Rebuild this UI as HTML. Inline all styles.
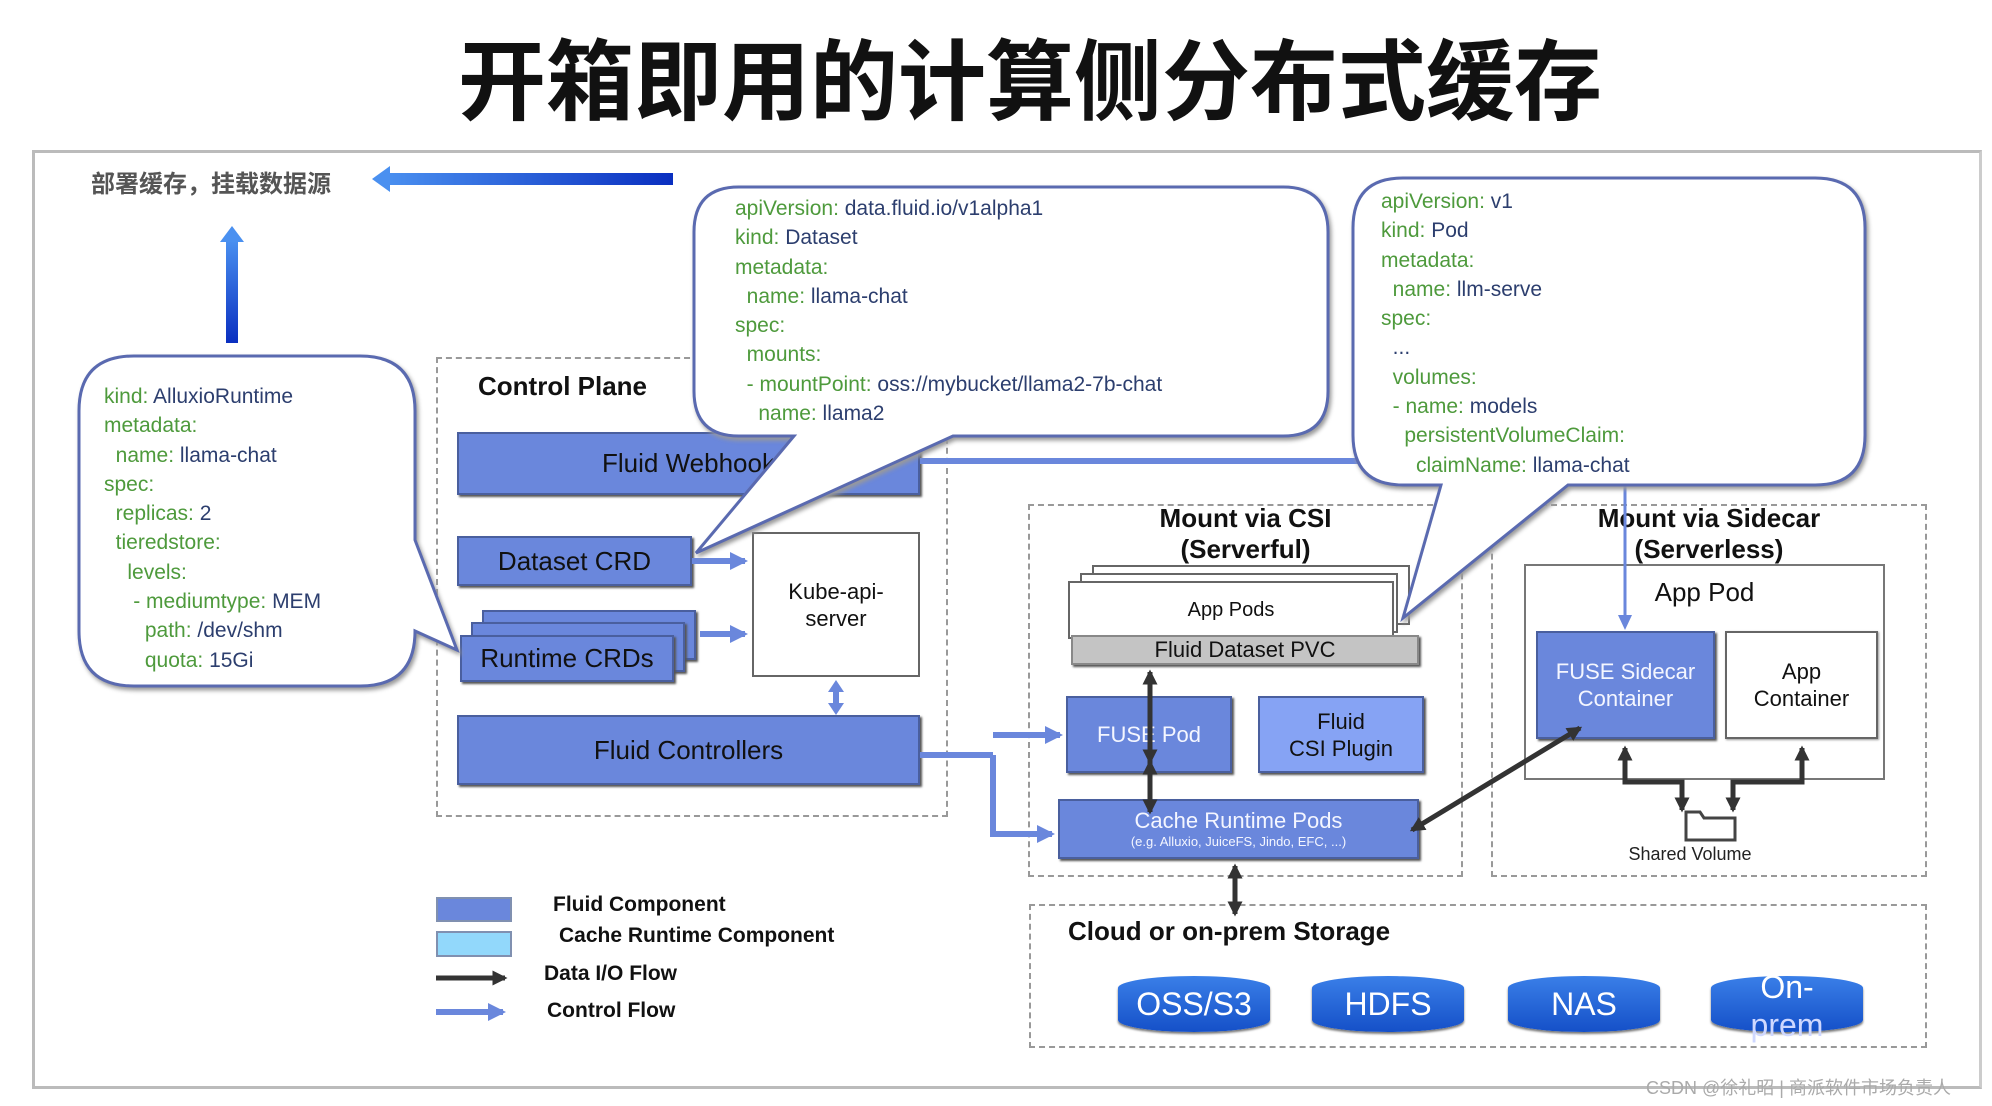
<!DOCTYPE html>
<html><head><meta charset="utf-8"><style>
*{margin:0;padding:0;box-sizing:border-box}
body{width:1992px;height:1106px;background:#fff;position:relative;overflow:hidden;font-family:"Liberation Sans","Noto Sans CJK SC",sans-serif}
.a{position:absolute}
.box{position:absolute;background:#6a87dc;border:2px solid #4a5f9e;box-shadow:2px 2px 2px #555;display:flex;align-items:center;justify-content:center;text-align:center;color:#111;font-size:26px}
.w{color:#f4f6ff}
.dash{position:absolute;border:2px dashed #999}
.t{position:absolute;font-weight:bold;color:#111}
.code{position:absolute;font-size:21px;line-height:29.3px;color:#2c3e6e;white-space:pre}
.code b{font-weight:normal;color:#4e9a3c}
.cyl{position:absolute;width:152px;height:56px;background:linear-gradient(#3a7fe8,#1550c8);border-radius:76px/12px;color:#fff;font-size:32px;display:flex;align-items:center;justify-content:center;box-shadow:0 2px 2px #777}
</style></head><body>
<div class="a" style="left:300px;top:28px;width:1460px;text-align:center;font-size:88px;line-height:110px;font-weight:bold;color:#111;white-space:nowrap">开箱即用的计算侧分布式缓存</div>
<div class="a" style="left:32px;top:150px;width:1950px;height:939px;border:3px solid #bbb;border-right-color:#ccc"></div>
<div class="t" style="left:91px;top:164px;font-size:24px;color:#555">部署缓存，挂载数据源</div>

<div class="dash" style="left:436px;top:357px;width:512px;height:460px"></div>
<div class="t" style="left:478px;top:371px;font-size:26px">Control Plane</div>
<div class="dash" style="left:1028px;top:504px;width:435px;height:373px"></div>
<div class="t" style="left:1028px;top:503px;width:435px;text-align:center;font-size:26px;line-height:31px">Mount via CSI<br>(Serverful)</div>
<div class="dash" style="left:1491px;top:504px;width:436px;height:373px"></div>
<div class="t" style="left:1491px;top:503px;width:436px;text-align:center;font-size:26px;line-height:31px">Mount via Sidecar<br>(Serverless)</div>
<div class="dash" style="left:1029px;top:904px;width:898px;height:144px"></div>
<div class="t" style="left:1068px;top:916px;font-size:26px">Cloud or on-prem Storage</div>

<div class="box" style="left:457px;top:432px;width:463px;height:63px">Fluid Webhook</div>
<div class="box" style="left:457px;top:536px;width:235px;height:50px">Dataset CRD</div>
<div class="box" style="left:482px;top:610px;width:214px;height:50px"></div>
<div class="box" style="left:471px;top:622px;width:214px;height:50px"></div>
<div class="box" style="left:460px;top:635px;width:214px;height:47px">Runtime CRDs</div>
<div class="box" style="left:752px;top:532px;width:168px;height:145px;background:#fff;border:2px solid #666;box-shadow:none;font-size:22px;line-height:27px">Kube-api-<br>server</div>
<div class="box" style="left:457px;top:715px;width:463px;height:70px">Fluid Controllers</div>

<div class="a" style="left:1092px;top:565px;width:318px;height:60px;border:2px solid #666;background:#fff"></div>
<div class="a" style="left:1080px;top:573px;width:318px;height:60px;border:2px solid #666;background:#fff"></div>
<div class="box" style="left:1068px;top:581px;width:326px;height:58px;background:#fff;border:2px solid #666;box-shadow:none;font-size:20px">App Pods</div>
<div class="box" style="left:1071px;top:635px;width:348px;height:30px;background:#c4c4c4;border:2px solid #888;font-size:22px">Fluid Dataset PVC</div>
<div class="box w" style="left:1066px;top:696px;width:166px;height:77px;font-size:22px">FUSE Pod</div>
<div class="box" style="left:1258px;top:696px;width:166px;height:77px;background:#86a3f4;font-size:22px;line-height:27px">Fluid<br>CSI Plugin</div>
<div class="box w" style="left:1058px;top:799px;width:361px;height:60px;flex-direction:column;font-size:22px;line-height:25px">Cache Runtime Pods<span style="font-size:13px;line-height:18px">(e.g. Alluxio, JuiceFS, Jindo, EFC, ...)</span></div>

<div class="a" style="left:1524px;top:564px;width:361px;height:216px;border:2px solid #777;background:#fff"></div>
<div class="a" style="left:1524px;top:577px;width:361px;text-align:center;font-size:26px;color:#111">App Pod</div>
<div class="box w" style="left:1536px;top:631px;width:179px;height:108px;font-size:22px;line-height:27px">FUSE Sidecar<br>Container</div>
<div class="box" style="left:1725px;top:631px;width:153px;height:108px;background:#fff;border:2px solid #666;box-shadow:1px 1px 2px #999;font-size:22px;line-height:27px">App<br>Container</div>
<div class="a" style="left:1620px;top:844px;width:140px;text-align:center;font-size:18px;color:#222">Shared Volume</div>

<div class="cyl" style="left:1118px;top:976px">OSS/S3</div>
<div class="cyl" style="left:1312px;top:976px">HDFS</div>
<div class="cyl" style="left:1508px;top:976px">NAS</div>
<div class="cyl" style="left:1711px;top:976px;line-height:38px;flex-direction:column;justify-content:flex-start;overflow:visible"><span style="margin-top:-8px">On-</span><span style="color:#cfd8ff">prem</span></div>

<div class="a" style="left:436px;top:897px;width:76px;height:25px;background:#6a87dc;border:2px solid #8090b0"></div>
<div class="a" style="left:436px;top:931px;width:76px;height:26px;background:#92d8fb;border:2px solid #8090b0"></div>
<div class="t" style="left:553px;top:893px;font-size:21px">Fluid Component</div>
<div class="t" style="left:559px;top:924px;font-size:21px">Cache Runtime Component</div>
<div class="t" style="left:544px;top:962px;font-size:21px">Data I/O Flow</div>
<div class="t" style="left:547px;top:999px;font-size:21px">Control Flow</div>
<div class="a" style="left:1646px;top:1074px;font-size:18px;color:#aaa">CSDN @徐礼昭 | 商派软件市场负责人</div>

<svg class="a" style="left:0;top:0" width="1992" height="1106">
<defs>
<linearGradient id="g1" x1="0" x2="1"><stop offset="0" stop-color="#4a90f0"/><stop offset="1" stop-color="#0a2fc0"/></linearGradient>
<linearGradient id="g2" x1="0" y1="0" x2="0" y2="1"><stop offset="0" stop-color="#4a90f0"/><stop offset="1" stop-color="#0a2fc0"/></linearGradient>
<marker id="bk" markerWidth="3" markerHeight="3" refX="2.5" refY="1.5" orient="auto-start-reverse"><path d="M0,0 L3,1.5 L0,3 Z" fill="#333"/></marker>
<marker id="bl" markerWidth="3" markerHeight="3" refX="2.5" refY="1.5" orient="auto-start-reverse"><path d="M0,0 L3,1.5 L0,3 Z" fill="#6a87dc"/></marker>
</defs>
<rect x="385" y="173" width="288" height="12" fill="url(#g1)"/>
<path d="M372,179 L390,166 L390,192 Z" fill="#4a90f0"/>
<rect x="226" y="240" width="12" height="103" fill="url(#g2)"/>
<path d="M232,226 L220,242 L244,242 Z" fill="#4a90f0"/>
<g stroke="#6a87dc" stroke-width="6" fill="none">
<line x1="692" y1="561" x2="745" y2="561" marker-end="url(#bl)"/>
<line x1="700" y1="634" x2="745" y2="634" marker-end="url(#bl)"/>
<line x1="920" y1="755" x2="993" y2="755"/>
<polyline points="993,755 993,834 1052,834" marker-end="url(#bl)"/>
<polyline points="993,735 1060,735" marker-end="url(#bl)"/>
<line x1="920" y1="461" x2="1360" y2="461"/>
<line x1="436" y1="1012" x2="503" y2="1012" marker-end="url(#bl)"/>
</g>
<line x1="836" y1="690" x2="836" y2="705" stroke="#6a87dc" stroke-width="6"/>
<path d="M828,692 L844,692 L836,680 Z M828,703 L844,703 L836,715 Z" fill="#6a87dc"/>
<line x1="1625" y1="483" x2="1625" y2="620" stroke="#6a87dc" stroke-width="3"/>
<path d="M1618,615 L1632,615 L1625,630 Z" fill="#6a87dc"/>
<g stroke="#333" stroke-width="5" fill="none">
<line x1="1150" y1="672" x2="1150" y2="762" marker-end="url(#bk)" marker-start="url(#bk)"/>
<line x1="1150" y1="762" x2="1150" y2="812" marker-end="url(#bk)" marker-start="url(#bk)"/>
<line x1="1235" y1="866" x2="1235" y2="914" marker-end="url(#bk)" marker-start="url(#bk)"/>
<line x1="1412" y1="830" x2="1580" y2="728" marker-end="url(#bk)" marker-start="url(#bk)"/>
<line x1="436" y1="978" x2="505" y2="978" marker-end="url(#bk)"/>
<polyline points="1625,748 1625,782 1682,782 1682,810" marker-start="url(#bk)" marker-end="url(#bk)"/>
<polyline points="1802,748 1802,782 1733,782 1733,810" marker-start="url(#bk)" marker-end="url(#bk)"/>
</g>
<path d="M1686,812 L1700,812 L1704,818 L1735,818 L1735,840 L1686,840 Z" fill="#fff" stroke="#444" stroke-width="3"/>
<g fill="#fff" stroke="#5a6ab0" stroke-width="3" style="filter:drop-shadow(2px 3px 2px #999)">
<path d="M134,356 H360 Q415,356 415,411 V540 L457,650 L415,631 Q415,686 360,686 H134 Q79,686 79,631 V411 Q79,356 134,356 Z"/>
<path d="M739,187 H1283 Q1328,187 1328,232 V391 Q1328,436 1283,436 H953 L696,553 L794,436 H739 Q694,436 694,391 V232 Q694,187 739,187 Z"/>
<path d="M1403,178 H1815 Q1865,178 1865,228 V435 Q1865,485 1815,485 H1568 L1403,618 L1441,485 H1403 Q1353,485 1353,435 V228 Q1353,178 1403,178 Z"/>
</g>
</svg>
<div class="code" style="left:104px;top:382px"><b>kind:</b> AlluxioRuntime
<b>metadata:</b>
  <b>name:</b> llama-chat
<b>spec:</b>
  <b>replicas:</b> 2
  <b>tieredstore:</b>
    <b>levels:</b>
     <b>- mediumtype:</b> MEM
       <b>path:</b> /dev/shm
       <b>quota:</b> 15Gi</div>
<div class="code" style="left:735px;top:194px"><b>apiVersion:</b> data.fluid.io/v1alpha1
<b>kind:</b> Dataset
<b>metadata:</b>
  <b>name:</b> llama-chat
<b>spec:</b>
  <b>mounts:</b>
  <b>- mountPoint:</b> oss://mybucket/llama2-7b-chat
    <b>name:</b> llama2</div>
<div class="code" style="left:1381px;top:187px"><b>apiVersion:</b> v1
<b>kind:</b> Pod
<b>metadata:</b>
  <b>name:</b> llm-serve
<b>spec:</b>
  ...
  <b>volumes:</b>
  <b>- name:</b> models
    <b>persistentVolumeClaim:</b>
      <b>claimName:</b> llama-chat</div>
</body></html>
